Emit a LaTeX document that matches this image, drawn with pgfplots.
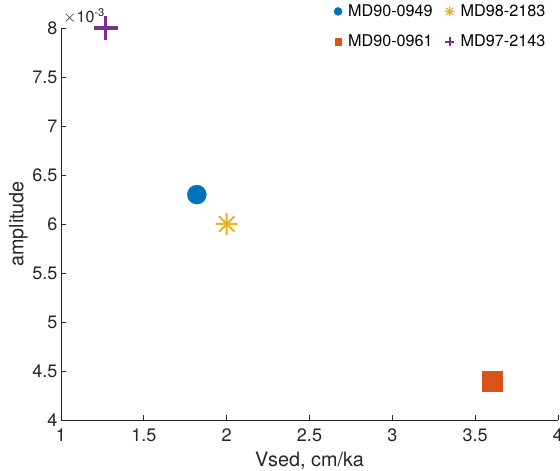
\documentclass[border=0pt]{standalone}
\usepackage{pgfplots}
\pgfplotsset{compat=1.18}
\usepackage{fontspec}
\setmainfont{TeX Gyre Heros}
\definecolor{mblue}{rgb}{0,0.447,0.741}
\definecolor{morange}{rgb}{0.85,0.325,0.098}
\definecolor{myellow}{rgb}{0.929,0.694,0.125}
\definecolor{mpurple}{rgb}{0.494,0.184,0.556}
\definecolor{axgray}{rgb}{0.15,0.15,0.15}
\pgfdeclareplotmark{mstar}{%
 \pgfpathmoveto{\pgfqpoint{-\pgfplotmarksize}{0pt}}\pgfpathlineto{\pgfqpoint{\pgfplotmarksize}{0pt}}%
 \pgfpathmoveto{\pgfqpoint{0pt}{-\pgfplotmarksize}}\pgfpathlineto{\pgfqpoint{0pt}{\pgfplotmarksize}}%
 \pgfpathmoveto{\pgfqpoint{-0.707\pgfplotmarksize}{-0.707\pgfplotmarksize}}\pgfpathlineto{\pgfqpoint{0.707\pgfplotmarksize}{0.707\pgfplotmarksize}}%
 \pgfpathmoveto{\pgfqpoint{-0.707\pgfplotmarksize}{0.707\pgfplotmarksize}}\pgfpathlineto{\pgfqpoint{0.707\pgfplotmarksize}{-0.707\pgfplotmarksize}}%
 \pgfusepathqstroke}
\begin{document}
\begin{tikzpicture}
\useasboundingbox (-61pt,-51pt) rectangle ++(560pt,471pt);
\begin{axis}[
  name=ax, at={(0,0)}, anchor=south west,
  scale only axis,
  width=497pt, height=392pt,
  xmin=1, xmax=4, ymin=4, ymax=8,
  xtick={1,1.5,2,2.5,3,3.5,4},
  ytick={4,4.5,5,5.5,6,6.5,7,7.5,8},
  axis x line*=bottom, axis y line*=left,
  axis line style={-, axgray, line width=0.8pt},
  tick align=inside, major tick length=5pt,
  tick style={axgray, line width=0.8pt},
  /pgf/number format/assume math mode=true,
  ticklabel style={font=\fontsize{18}{20}\selectfont, text=axgray},
  xticklabel style={yshift=-5pt},
  xlabel={Vsed, cm/ka}, ylabel={amplitude},
  label style={font=\fontsize{19.8}{22}\selectfont, text=axgray},
  xlabel style={yshift=-4pt},
  ylabel style={yshift=-2pt},
  legend columns=2, transpose legend,
  legend style={draw=none, fill=none, at={(0.985,1.07)}, anchor=north east,
    font=\fontsize{16.2}{18}\selectfont, text=black,
    /tikz/every odd column/.append style={column sep=4pt},
    /tikz/every even column/.append style={column sep=10pt},
    row sep=13pt},
  legend cell align=left,
  clip=false,
]
\addplot[only marks, mark=*, mark size=9.5pt, color=mblue, fill=mblue,
  legend image post style={mark size=4pt}] coordinates {(1.82,6.3)};
\addlegendentry{MD90-0949}
\addplot[only marks, mark=square*, mark size=10pt, color=morange, fill=morange,
  legend image post style={mark size=3.3pt}] coordinates {(3.6,4.4)};
\addlegendentry{MD90-0961}
\addplot[only marks, mark=mstar, mark size=11pt, color=myellow, line width=2pt,
  legend image post style={mark size=5pt, line width=1.2pt}] coordinates {(2.0,6.0)};
\addlegendentry{MD98-2183}
\addplot[only marks, mark=+, mark size=12pt, color=mpurple, line width=3.2pt,
  legend image post style={mark size=4.5pt, line width=2pt}] coordinates {(1.27,8.0)};
\addlegendentry{MD97-2143}
\node[anchor=south west, inner sep=0pt, text=axgray, font=\fontsize{16}{18}\selectfont]
  at ([xshift=2pt,yshift=4pt]rel axis cs:0,1) {$\times$10\textsuperscript{-3}};
\end{axis}
\end{tikzpicture}
\end{document}
